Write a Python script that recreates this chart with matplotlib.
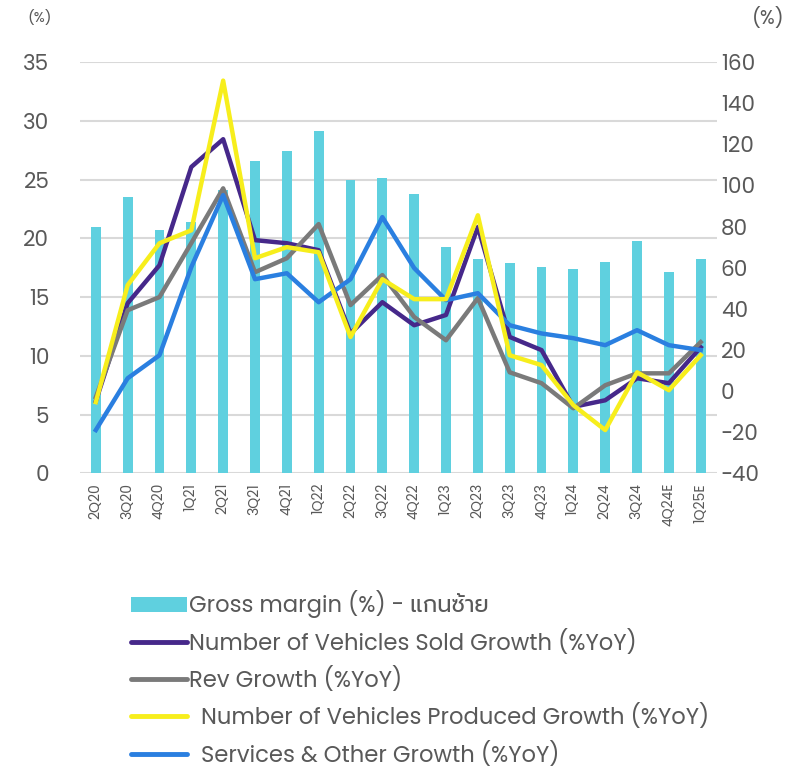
import matplotlib
matplotlib.use("Agg")
import matplotlib.pyplot as plt
from matplotlib import font_manager
from matplotlib.lines import Line2D
from matplotlib.patches import Patch
import numpy as np

_available = set(f.name for f in font_manager.fontManager.ttflist)
_wanted = ['Poppins', 'Prompt', 'Kanit', 'Athiti', 'Inter', 'DejaVu Sans']
plt.rcParams['font.family'] = [f for f in _wanted if f in _available]

quarters = ["2Q20", "3Q20", "4Q20", "1Q21", "2Q21", "3Q21", "4Q21", "1Q22", "2Q22", "3Q22",
            "4Q22", "1Q23", "2Q23", "3Q23", "4Q23", "1Q24", "2Q24", "3Q24", "4Q24E", "1Q25E"]
gross_margin = [21.0, 23.5, 20.7, 21.4, 24.1, 26.6, 27.4, 29.1, 25.0, 25.1,
                23.8, 19.3, 18.2, 17.9, 17.6, 17.4, 18.0, 19.8, 17.1, 18.2]
vehicles_sold = [-5, 42.7, 61.2, 109, 122.5, 73.4, 71.9, 68.5, 28, 43.2,
                 32, 37, 79.8, 26.3, 19.9, -7.7, -4.5, 6.2, 3.8, 21.3]
rev_growth = [-3, 39.3, 45.7, 72, 98.6, 57.8, 64.6, 81.2, 41.8, 56.4,
              36, 24.7, 45.2, 9.1, 3.8, -8.4, 2.8, 8.6, 8.6, 23.8]
vehicles_produced = [-5.4, 51.5, 71.9, 78.2, 151, 64.6, 70, 67.5, 26.3, 54.4,
                     44.7, 44.7, 85.5, 17.4, 12.6, -6.9, -19, 9.1, 0.4, 17.4]
services_growth = [-19, 6.2, 17.4, 60.3, 95.3, 54.4, 57.3, 43.2, 54.4, 84.6,
                   59.8, 44.2, 47.6, 32, 28, 25.7, 22.3, 29.6, 22.3, 19.9]

labels = ["Gross margin (%) - แกนซ้าย",
          "Number of Vehicles Sold Growth (%YoY)",
          "Rev Growth (%YoY)",
          "  Number of Vehicles Produced Growth (%YoY)",
          "  Services & Other Growth (%YoY)"]

c_bar = "#5fd0df"
c_sold = "#46288a"
c_rev = "#7a7a7a"
c_prod = "#f7ee1c"
c_serv = "#2a7fe0"
txt = "#595959"
grid = "#d9d9d9"

fig = plt.figure(figsize=(7.91, 7.67), dpi=100)
ax = fig.add_axes([0.101, 0.383, 0.805, 0.536])
ax2 = ax.twinx()

x = np.arange(len(quarters))
ax.bar(x, gross_margin, width=0.31, color=c_bar, zorder=2)
ax.set_ylim(0, 35)
ax.set_yticks(np.arange(0, 36, 5))
ax.set_xlim(-0.5, len(quarters) - 0.5)
ax.set_xticks(x)
ax.set_xticklabels(quarters, rotation=90, fontsize=10, color=txt)
ax.tick_params(axis='y', labelsize=15.5, colors=txt, length=0, pad=22)
ax.tick_params(axis='x', length=0, pad=7)
ax.grid(axis='y', color=grid, linewidth=1.5, zorder=0)
ax.set_axisbelow(True)

lw = 3.2
ax2.plot(x, vehicles_sold, color=c_sold, lw=lw, zorder=3)
ax2.plot(x, rev_growth, color=c_rev, lw=lw, zorder=3)
ax2.plot(x, vehicles_produced, color=c_prod, lw=lw, zorder=4)
ax2.plot(x, services_growth, color=c_serv, lw=lw, zorder=3)
ax2.set_ylim(-40, 160)
ax2.set_yticks(np.arange(-40, 161, 20))
ax2.tick_params(axis='y', labelsize=15.5, colors=txt, length=0, pad=3)

for a in (ax, ax2):
    for s in a.spines.values():
        s.set_visible(False)

fig.text(40 / 791, 1 - 18 / 767, "(%)", fontsize=10.5, color=txt, ha='center', va='center')
fig.text(768 / 791, 1 - 18 / 767, "(%)", fontsize=14, color=txt, ha='center', va='center')

handles = [Patch(facecolor=c_bar, edgecolor='none'),
           Line2D([0], [0], color=c_sold, lw=3.5, solid_capstyle='round'),
           Line2D([0], [0], color=c_rev, lw=3.5, solid_capstyle='round'),
           Line2D([0], [0], color=c_prod, lw=3.5, solid_capstyle='round'),
           Line2D([0], [0], color=c_serv, lw=3.5, solid_capstyle='round')]
leg = fig.legend(handles, labels, loc='upper left', bbox_to_anchor=(111 / 791, 1 - 570 / 767),
                 frameon=False, fontsize=16.3, labelcolor=txt, handlelength=2.45,
                 handletextpad=0.1, labelspacing=0.5)

fig.savefig("out.png", dpi=100)
